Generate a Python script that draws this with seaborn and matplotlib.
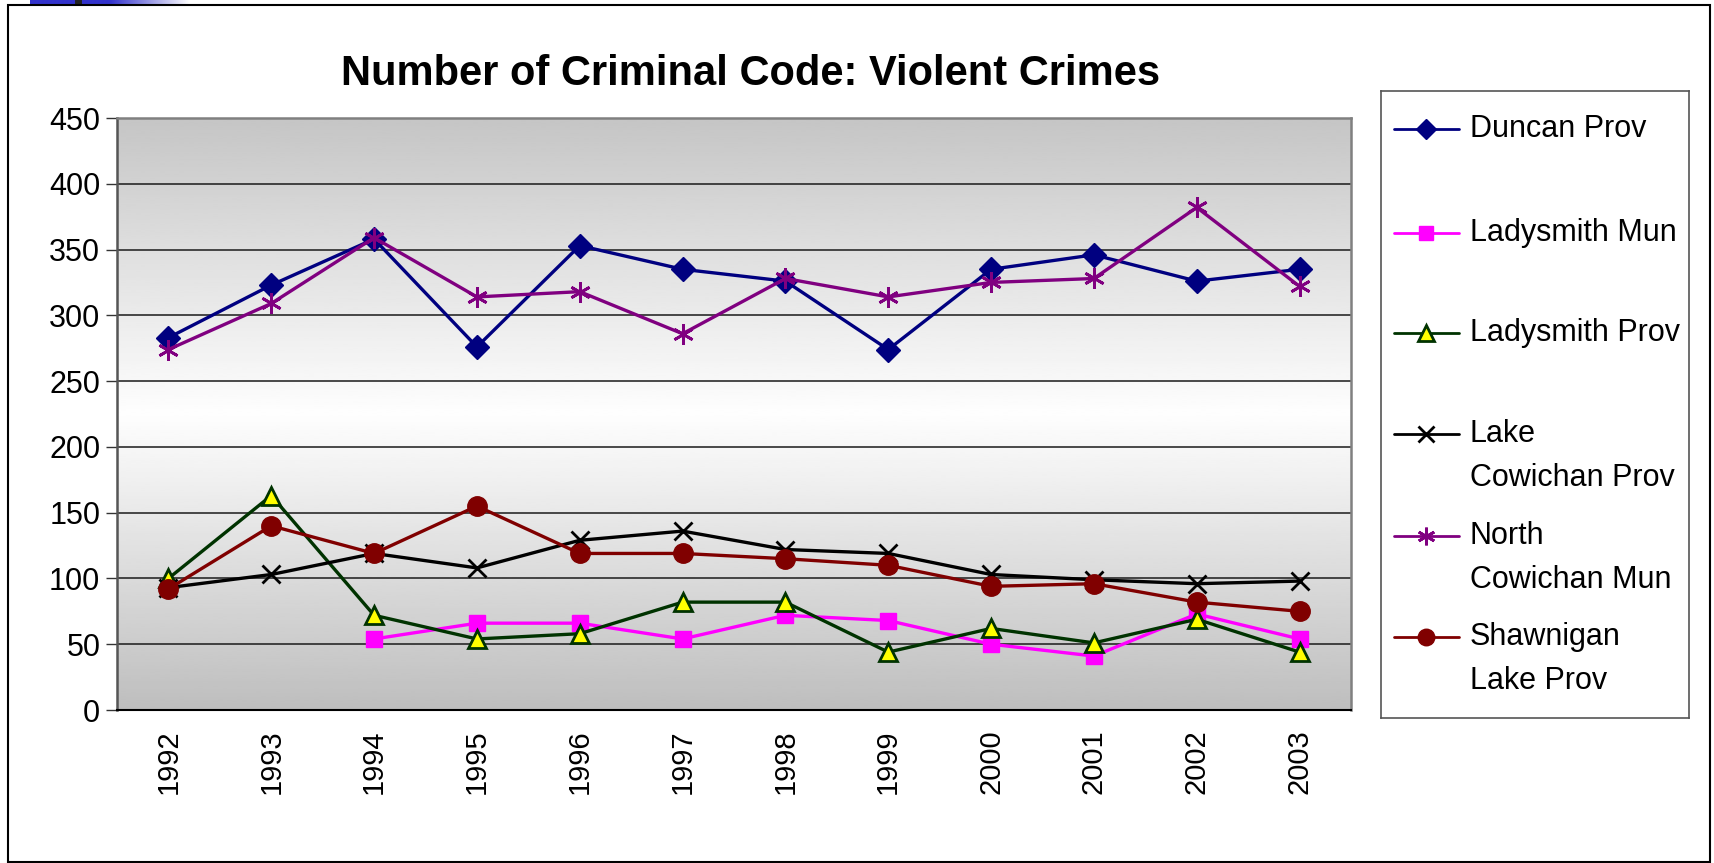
import numpy as np
import pandas as pd
import matplotlib
matplotlib.use("Agg")
import matplotlib.pyplot as plt
import seaborn as sns
from matplotlib.patches import Rectangle

years = [1992, 1993, 1994, 1995, 1996, 1997, 1998, 1999, 2000, 2001, 2002, 2003]

duncan_prov = [283, 323, 358, 276, 353, 335, 326, 274, 335, 346, 326, 335]
ladysmith_mun = [np.nan, np.nan, 54, 66, 66, 54, 72, 68, 50, 41, 73, 54]
ladysmith_prov = [100, 163, 72, 54, 58, 82, 82, 44, 62, 51, 69, 44]
lake_cowichan_prov = [93, 103, 119, 108, 129, 136, 122, 119, 103, 99, 96, 98]
north_cowichan_mun = [274, 309, 359, 314, 318, 286, 328, 314, 325, 328, 382, 322]
shawnigan_lake_prov = [92, 140, 119, 155, 119, 119, 115, 110, 94, 96, 82, 75]

names = ["Duncan Prov", "Ladysmith Mun", "Ladysmith Prov",
         "Lake Cowichan Prov", "North Cowichan Mun", "Shawnigan Lake Prov"]
legend_labels = ["Duncan Prov", "Ladysmith Mun", "Ladysmith Prov",
                 "Lake\nCowichan Prov", "North\nCowichan Mun", "Shawnigan\nLake Prov"]
y_ticks = [0, 50, 100, 150, 200, 250, 300, 350, 400, 450]
title = "Number of Criminal Code: Violent Crimes"

df = pd.DataFrame({"Year": years,
                   "Duncan Prov": duncan_prov,
                   "Ladysmith Mun": ladysmith_mun,
                   "Ladysmith Prov": ladysmith_prov,
                   "Lake Cowichan Prov": lake_cowichan_prov,
                   "North Cowichan Mun": north_cowichan_mun,
                   "Shawnigan Lake Prov": shawnigan_lake_prov})
long = df.melt(id_vars="Year", var_name="Series", value_name="Count").dropna()

# style per series: line colour, marker, size, face, edge, edge width
styles = {
    "Duncan Prov": ("#000080", "D", 12, "#000080", "#000080", 1),
    "Ladysmith Mun": ("#FF00FF", "s", 12, "#FF00FF", "#FF00FF", 1),
    "Ladysmith Prov": ("#003300", "^", 13, "#FFFF00", "#003300", 2),
    "Lake Cowichan Prov": ("#000000", "x", 13, "#000000", "#000000", 2),
    "North Cowichan Mun": ("#800080", (6, 2, 0), 15, "#800080", "#800080", 2),
    "Shawnigan Lake Prov": ("#800000", "o", 14, "#800000", "#800000", 1),
}

sns.set_style("white")
plt.rcParams["font.family"] = ["Liberation Sans", "DejaVu Sans"]
plt.rcParams["text.color"] = "black"
plt.rcParams["xtick.color"] = "black"
plt.rcParams["ytick.color"] = "black"
plt.rcParams["axes.labelcolor"] = "black"

W, H = 1714, 863
fig = plt.figure(figsize=(W / 100, H / 100), dpi=100)
ax = fig.add_axes([117 / W, 1 - 710 / H, (1351 - 117) / W, (710 - 118) / H])

for name in names:
    sub = long[long["Series"] == name]
    c, m, ms, fc, ec, mew = styles[name]
    sns.lineplot(data=sub, x="Year", y="Count", ax=ax, color=c, marker=m,
                 markersize=ms, markerfacecolor=fc, markeredgecolor=ec,
                 markeredgewidth=mew, linewidth=2.4, legend=False, zorder=3)

# plot area gradient: grey at top, white around 225, grey at bottom
vals = np.linspace(0, 450, 300)
shade = np.interp(vals, [0, 225, 450], [190, 254, 197])[:, None]
ax.imshow(shade, cmap="gray", vmin=0, vmax=255, aspect="auto", origin="lower",
          extent=[1991.5, 2003.5, 0, 450], zorder=0, interpolation="bilinear")

ax.set_xlim(1991.5, 2003.5)
ax.set_ylim(0, 450)
ax.set_yticks(y_ticks)
ax.set_yticklabels([str(v) for v in y_ticks], fontsize=22)
ax.set_xticks(years)
ax.set_xticklabels([str(y) for y in years], rotation=90, fontsize=21)
ax.set_xticks(np.arange(1991.5, 2004, 1), minor=True)
ax.tick_params(axis="x", which="major", length=0, pad=14)
ax.tick_params(axis="x", which="minor", length=9, width=1, color="black", direction="out")
ax.tick_params(axis="y", which="major", length=8, width=1, color="#333333",
               direction="out", pad=4, left=True)
for v in y_ticks[1:-1]:
    ax.axhline(v, color="#1a1a1a", linewidth=1.1, zorder=1)
ax.set_xlabel("")
ax.set_ylabel("")
for side in ["top", "right", "left"]:
    ax.spines[side].set_color("#808080")
    ax.spines[side].set_linewidth(1.8)
ax.spines["left"].set_color("#555555")
ax.spines["bottom"].set_color("black")
ax.spines["bottom"].set_linewidth(1.5)
for s in ax.spines.values():
    s.set_visible(True)
    s.set_zorder(4)

fig.text(751 / W, 1 - 74 / H, title, ha="center", va="center",
         fontsize=30, fontweight="bold", color="black")

# legend panel
lax = fig.add_axes([1381 / W, 1 - 718 / H, (1689 - 1381) / W, (718 - 91) / H])
lax.set_xlim(0, 308)
lax.set_ylim(627, 0)
lax.set_xticks([])
lax.set_yticks([])
for s in lax.spines.values():
    s.set_color("#555555")
    s.set_linewidth(1.2)
rows = [38, 142, 242, 343, 445, 546]
for name, lab, ry in zip(names, legend_labels, rows):
    c, m, ms, fc, ec, mew = styles[name]
    lax.plot([13, 78], [ry, ry], color=c, linewidth=2)
    lax.plot([45], [ry], color=c, marker=m, markersize=ms * 0.85,
             markerfacecolor=fc, markeredgecolor=ec, markeredgewidth=mew)
    for j, line in enumerate(lab.split("\n")):
        lax.text(89, ry + j * 44, line, va="center", ha="left", fontsize=22,
                 color="black")

# outer slide frame and top corner bar
fig.patches.append(Rectangle((8 / W, 1 / H), (1710 - 8) / W, (858 - 1) / H,
                             transform=fig.transFigure, fill=False,
                             edgecolor="black", linewidth=1.5))
bax = fig.add_axes([30 / W, 1 - 5 / H, 160 / W, 5 / H])
bar = np.interp(np.linspace(0, 1, 200), [0, 0.5, 1], [0, 0, 1])
rgb = np.stack([0.2 + 0.8 * bar, 0.2 + 0.8 * bar, 0.8 + 0.2 * bar], axis=1)[None, :, :]
bax.imshow(rgb, aspect="auto", extent=[0, 1, 0, 1])
bax.axvline(0.3, color="#222222", linewidth=5)
bax.axis("off")

fig.savefig("out.png", dpi=100)
